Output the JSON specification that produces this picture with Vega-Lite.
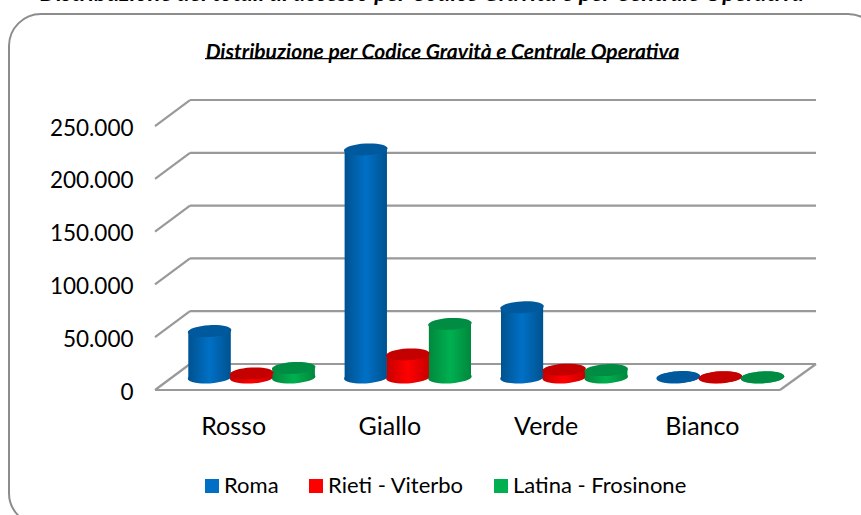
{
"$schema":"https://vega.github.io/schema/vega-lite/v6.json",
"autosize":"none",
"padding":{"left":9,"top":14,"right":0,"bottom":0},
"width":871,"height":511,
"background":"white",
"view":{"cornerRadius":32,"stroke":"#8c8c8c","strokeWidth":2,"fill":"white"},
"title":{"text":"Distribuzione per Codice Gravità e Centrale Operativa","font":"Lato","fontSize":21,"fontWeight":"bold","fontStyle":"italic","color":"black","anchor":"middle","frame":"group","offset":-44,"dx":-2,"dy":37},
"datasets":{
"grid":[{"tick":0},{"tick":50000},{"tick":100000},{"tick":150000},{"tick":200000},{"tick":250000}],
"accessi":[
{"codice":"Rosso","centrale":"Roma","valore":44000},
{"codice":"Rosso","centrale":"Rieti - Viterbo","valore":3800},
{"codice":"Rosso","centrale":"Latina - Frosinone","valore":9000},
{"codice":"Giallo","centrale":"Roma","valore":216000},
{"codice":"Giallo","centrale":"Rieti - Viterbo","valore":21800},
{"codice":"Giallo","centrale":"Latina - Frosinone","valore":50700},
{"codice":"Verde","centrale":"Roma","valore":66500},
{"codice":"Verde","centrale":"Rieti - Viterbo","valore":7400},
{"codice":"Verde","centrale":"Latina - Frosinone","valore":7000},
{"codice":"Bianco","centrale":"Roma","valore":400},
{"codice":"Bianco","centrale":"Rieti - Viterbo","valore":300},
{"codice":"Bianco","centrale":"Latina - Frosinone","valore":200}
]},
"encoding":{},
"layer":[
{"layer":[
{"data":{"name":"grid"},
 "mark":{"type":"rule","color":"#999999","strokeWidth":2.2,"xOffset":35,"x2Offset":36,"yOffset":-26,"y2Offset":-26},
 "encoding":{
  "x":{"datum":0,"type":"quantitative","scale":{"domain":[0,1],"range":[146,771]},"axis":null},
  "x2":{"datum":1},
  "y":{"field":"tick","type":"quantitative","title":null,"scale":{"domain":[-127845,356072],"nice":false,"zero":false},
   "axis":{"values":[0,50000,100000,150000,200000,250000],"domain":false,"ticks":false,"grid":false,"offset":-127,"labelPadding":3,"labelOffset":2,"labelFont":"Lato","labelFontSize":22.5,"labelColor":"black","labelExpr":"replace(format(datum.value,','),',','.')"}},
  "y2":{"field":"tick"}}},
{"data":{"name":"grid"},
 "mark":{"type":"rule","color":"#999999","strokeWidth":2.2,"x2Offset":35,"y2Offset":-26},
 "encoding":{
  "x":{"datum":0,"type":"quantitative"},
  "x2":{"datum":0},
  "y":{"field":"tick","type":"quantitative"},
  "y2":{"field":"tick"}}},
{"data":{"name":"grid"},
 "transform":[{"filter":"datum.tick===0"}],
 "mark":{"type":"rule","color":"#999999","strokeWidth":2.2},
 "encoding":{
  "x":{"datum":0,"type":"quantitative"},
  "x2":{"datum":1},
  "y":{"field":"tick","type":"quantitative"},
  "y2":{"field":"tick"}}},
{"data":{"name":"grid"},
 "transform":[{"filter":"datum.tick===0"}],
 "mark":{"type":"rule","color":"#999999","strokeWidth":2.2,"x2Offset":36,"y2Offset":-26},
 "encoding":{
  "x":{"datum":1,"type":"quantitative"},
  "x2":{"datum":1},
  "y":{"field":"tick","type":"quantitative"},
  "y2":{"field":"tick"}}},
{"data":{"values":[{"riga":"titolo"}]},
 "mark":{"type":"rule","color":"black","strokeWidth":1.2},
 "encoding":{
  "x":{"datum":0.08,"type":"quantitative"},
  "x2":{"datum":0.838},
  "y":{"datum":313900,"type":"quantitative"}}},
{"data":{"values":[{"testo":"Distribuzione dei totali di accesso per Codice Gravità e per Centrale Operativa"}]},
 "mark":{"type":"text","font":"Lato","fontSize":23.5,"fontStyle":"italic","fontWeight":"bold","color":"black","align":"center","baseline":"alphabetic","clip":false},
 "encoding":{
  "x":{"datum":0.427,"type":"quantitative"},
  "y":{"datum":368400,"type":"quantitative"},
  "text":{"field":"testo"}}}
]},
{"data":{"name":"accessi"},
 "encoding":{
  "x":{"field":"codice","type":"nominal","sort":["Rosso","Giallo","Verde","Bianco"],"title":null,
   "scale":{"range":[164.5,789.5],"paddingInner":0,"paddingOuter":0},
   "axis":{"orient":"bottom","domain":false,"ticks":false,"grid":false,"labelAngle":0,"offset":-110,"labelPadding":-1,"labelOffset":-18,"labelFont":"Lato","labelFontSize":25,"labelColor":"black"}},
  "xOffset":{"field":"centrale","type":"nominal","sort":["Roma","Rieti - Viterbo","Latina - Frosinone"],
   "scale":{"domain":["Roma","Rieti - Viterbo","Latina - Frosinone"],"paddingInner":0,"paddingOuter":0.357}}
 },
 "layer":[
 {"mark":{"type":"bar","yOffset":-12.5,"y2Offset":-12.5},
  "encoding":{
   "y":{"field":"valore","type":"quantitative","stack":null},
   "y2":{"datum":0},
   "color":{"field":"centrale","type":"nominal","sort":["Roma","Rieti - Viterbo","Latina - Frosinone"],
    "scale":{"domain":["Roma","Rieti - Viterbo","Latina - Frosinone"],"range":["#0070c6","#ff0000","#00b050"]},
    "legend":{"title":null,"orient":"none","legendX":192,"legendY":461,"direction":"horizontal","columns":3,"symbolType":"square","symbolSize":196,"labelFont":"Lato","labelFontSize":22,"labelColor":"black","labelOffset":1,"labelLimit":300,"columnPadding":26,"symbolStrokeWidth":0}}}},
 {"mark":{"type":"point","filled":true,"opacity":1,"size":1900,"shape":"M-1,0A1,0.27 0 1,1 1,0A1,0.27 0 1,1 -1,0Z","angle":-3,"yOffset":-12.5},
  "encoding":{
   "y":{"datum":0,"type":"quantitative"},
   "color":{"condition":[
     {"test":"datum.centrale==='Roma'","value":{"gradient":"linear","x1":0,"x2":1,"y1":0,"y2":0,"stops":[{"offset":0,"color":"#00528f"},{"offset":0.5,"color":"#0070c6"},{"offset":1,"color":"#00528f"}]}},
     {"test":"datum.centrale==='Rieti - Viterbo'","value":{"gradient":"linear","x1":0,"x2":1,"y1":0,"y2":0,"stops":[{"offset":0,"color":"#c80000"},{"offset":0.5,"color":"#ff0000"},{"offset":1,"color":"#c80000"}]}}],
    "value":{"gradient":"linear","x1":0,"x2":1,"y1":0,"y2":0,"stops":[{"offset":0,"color":"#00883d"},{"offset":0.5,"color":"#00b050"},{"offset":1,"color":"#00883d"}]}}}},
 {"mark":{"type":"bar","yOffset":-12.5,"y2Offset":-12.5},
  "encoding":{
   "y":{"field":"valore","type":"quantitative","stack":null},
   "y2":{"datum":0},
   "color":{"condition":[
     {"test":"datum.centrale==='Roma'","value":{"gradient":"linear","x1":0,"x2":1,"y1":0,"y2":0,"stops":[{"offset":0,"color":"#00528f"},{"offset":0.5,"color":"#0070c6"},{"offset":1,"color":"#00528f"}]}},
     {"test":"datum.centrale==='Rieti - Viterbo'","value":{"gradient":"linear","x1":0,"x2":1,"y1":0,"y2":0,"stops":[{"offset":0,"color":"#c80000"},{"offset":0.5,"color":"#ff0000"},{"offset":1,"color":"#c80000"}]}}],
    "value":{"gradient":"linear","x1":0,"x2":1,"y1":0,"y2":0,"stops":[{"offset":0,"color":"#00883d"},{"offset":0.5,"color":"#00b050"},{"offset":1,"color":"#00883d"}]}}}},
 {"mark":{"type":"point","filled":true,"opacity":1,"size":1900,"shape":"M-1,0A1,0.27 0 1,1 1,0A1,0.27 0 1,1 -1,0Z","angle":-3,"yOffset":-12.5},
  "encoding":{
   "y":{"field":"valore","type":"quantitative"},
   "color":{"condition":[
     {"test":"datum.centrale==='Roma'","value":"#00599d"},
     {"test":"datum.centrale==='Rieti - Viterbo'","value":"#c40000"}],
    "value":"#008c42"}}}
 ]}
],
"resolve":{"scale":{"x":"independent"},"axis":{"x":"independent"}}
}
